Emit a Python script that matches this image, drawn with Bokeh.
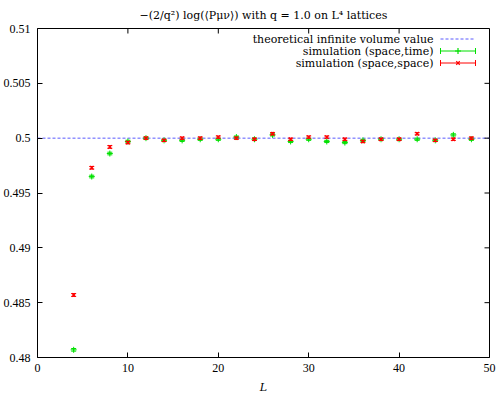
import numpy as np
from bokeh.plotting import figure
from bokeh.models import (ColumnDataSource, Whisker, TeeHead, Span, Label, FixedTicker)
from bokeh.embed import file_html
from bokeh.resources import INLINE

# ---------------- data ----------------
L_vals = [4, 6, 8, 10, 12, 14, 16, 18, 20, 22, 24, 26, 28, 30, 32, 34, 36, 38, 40, 42, 44, 46, 48]
st_vals = [0.4807, 0.4965, 0.4986, 0.4997, 0.5000, 0.4998, 0.4998, 0.4999, 0.4999, 0.5001, 0.4999, 0.5003,
           0.4997, 0.4999, 0.4997, 0.4996, 0.4998, 0.4999, 0.4999, 0.4999, 0.4998, 0.5003, 0.4999]
st_err = [0.00012, 0.00012, 0.00012, 0.00011, 0.0001, 0.0001, 0.0001, 0.0001, 0.0001, 0.0001, 0.0001, 0.0001,
          0.0001, 0.0001, 0.0001, 0.0001, 0.0001, 0.0001, 0.0001, 0.0001, 0.0001, 0.0001, 0.0001]
ss_vals = [0.4857, 0.4973, 0.4992, 0.4996, 0.5000, 0.4998, 0.5000, 0.5000, 0.5001, 0.5000, 0.4999, 0.5004,
           0.4999, 0.5001, 0.5001, 0.4999, 0.4997, 0.4999, 0.4999, 0.5004, 0.4998, 0.4999, 0.5000]
ss_err = [0.00013, 0.00012, 0.00012, 0.00011, 0.0001, 0.0001, 0.0001, 0.0001, 0.0001, 0.0001, 0.0001, 0.0001,
          0.0001, 0.0001, 0.0001, 0.0001, 0.0001, 0.0001, 0.0001, 0.0001, 0.0001, 0.0001, 0.0001]
theory_value = 0.5

x_ticks = [0, 10, 20, 30, 40, 50]
y_ticks = [0.48, 0.485, 0.49, 0.495, 0.5, 0.505, 0.51]
y_tick_labels = ["0.48", "0.485", "0.49", "0.495", "0.5", "0.505", "0.51"]
legend_labels = ["theoretical infinite volume value", "simulation (space,time)", "simulation (space,space)"]
x_label = "L"
title_text = "\u2212(2/q\u00b2) log(\u27e8P\u03bc\u03bd\u27e9) with q = 1.0 on L\u2074 lattices"

# ---------------- style / layout ----------------
GREEN = "#00e000"
RED = "#ff0000"
BLUE = "#5a5aff"
SERIF = "DejaVu Serif"
TICKFONT = "Liberation Serif"

X_RANGE = (0, 50)
Y_RANGE = (0.48, 0.51)
W, H = 498, 394
FL, FR, FT, FB = 37, 489, 28, 357   # frame edges in pixels
TICK = 5


def dx(px):
    return X_RANGE[0] + (px - FL) / (FR - FL) * (X_RANGE[1] - X_RANGE[0])


def dy(py):
    return Y_RANGE[1] - (py - FT) / (FB - FT) * (Y_RANGE[1] - Y_RANGE[0])


p = figure(frame_width=FR - FL, frame_height=FB - FT, x_range=X_RANGE, y_range=Y_RANGE,
           output_backend="svg", toolbar_location=None,
           min_border_left=FL, min_border_right=W - FR,
           min_border_top=FT, min_border_bottom=H - FB)
p.background_fill_color = "white"
p.border_fill_color = "white"
p.outline_line_color = "black"
p.outline_line_width = 1
p.grid.visible = False

p.title.text = title_text
p.title.text_font = SERIF
p.title.text_font_size = "11px"
p.title.text_font_style = "normal"
p.title.text_color = "black"
p.title.align = "center"
p.title.standoff = 13

p.xaxis.ticker = FixedTicker(ticks=x_ticks)
p.yaxis.ticker = FixedTicker(ticks=y_ticks)
p.yaxis.major_label_overrides = {t: s for t, s in zip(y_ticks, y_tick_labels)}
for ax in (p.xaxis, p.yaxis):
    ax.major_label_text_font = TICKFONT
    ax.major_label_text_font_size = "12px"
    ax.major_label_text_color = "black"
    ax.major_tick_in = TICK
    ax.major_tick_out = 0
    ax.major_tick_line_color = "black"
    ax.minor_tick_line_color = None
    ax.axis_line_color = None
p.xaxis.major_label_standoff = 6
p.yaxis.major_label_standoff = 7
p.xaxis.axis_label = x_label
p.xaxis.axis_label_text_font = SERIF
p.xaxis.axis_label_text_font_size = "11px"
p.xaxis.axis_label_text_font_style = "italic"
p.xaxis.axis_label_text_color = "black"
p.xaxis.axis_label_standoff = 6

# mirrored ticks on top and right edges (gnuplot style)
tx = TICK * (X_RANGE[1] - X_RANGE[0]) / (FR - FL)
ty = TICK * (Y_RANGE[1] - Y_RANGE[0]) / (FB - FT)
p.segment(x0=x_ticks, y0=[Y_RANGE[1]] * len(x_ticks), x1=x_ticks, y1=[Y_RANGE[1] - ty] * len(x_ticks),
          line_color="black", line_width=1)
p.segment(x0=[X_RANGE[1]] * len(y_ticks), y0=y_ticks, x1=[X_RANGE[1] - tx] * len(y_ticks), y1=y_ticks,
          line_color="black", line_width=1)

# theoretical line
p.add_layout(Span(location=theory_value, dimension="width", line_color=BLUE,
                  line_width=1, line_dash="3 2", level="underlay"))

# data
st = np.array(st_vals); se = np.array(st_err)
sv = np.array(ss_vals); sse = np.array(ss_err)
src_st = ColumnDataSource(dict(L=L_vals, v=st_vals, lo=st - se, hi=st + se))
src_ss = ColumnDataSource(dict(L=L_vals, v=ss_vals, lo=sv - sse, hi=sv + sse))

p.add_layout(Whisker(source=src_st, base="L", lower="lo", upper="hi", line_color=GREEN, line_width=1,
                     upper_head=TeeHead(size=5, line_color=GREEN, line_width=1),
                     lower_head=TeeHead(size=5, line_color=GREEN, line_width=1), level="underlay"))
p.scatter("L", "v", source=src_st, marker="cross", size=6, line_color=GREEN, line_width=1)

p.add_layout(Whisker(source=src_ss, base="L", lower="lo", upper="hi", line_color=RED, line_width=1,
                     upper_head=TeeHead(size=5, line_color=RED, line_width=1),
                     lower_head=TeeHead(size=5, line_color=RED, line_width=1), level="annotation"))
p.scatter("L", "v", source=src_ss, marker="x", size=5, line_color=RED, line_width=1.2)

# legend (gnuplot style: text then sample)
rows = [38.5, 50.5, 62.5]
for lab, ry in zip(legend_labels, rows):
    p.add_layout(Label(x=dx(433), y=dy(ry), text=lab, text_align="right", text_baseline="middle",
                       text_font=SERIF, text_font_size="11px", text_color="black"))
p.segment(x0=[dx(440)], y0=[dy(rows[0])], x1=[dx(475)], y1=[dy(rows[0])],
          line_color=BLUE, line_width=1, line_dash="3 2")
for ry, col, mk, ms in [(rows[1], GREEN, "cross", 6), (rows[2], RED, "x", 5)]:
    p.segment(x0=[dx(440), dx(440), dx(475)], y0=[dy(ry), dy(ry - 3), dy(ry - 3)],
              x1=[dx(475), dx(440), dx(475)], y1=[dy(ry), dy(ry + 3), dy(ry + 3)],
              line_color=col, line_width=1)
    p.scatter(x=[dx(457.5)], y=[dy(ry)], marker=mk, size=ms, line_color=col, line_width=1.2)

open("out.html", "w").write(file_html(p, INLINE))
